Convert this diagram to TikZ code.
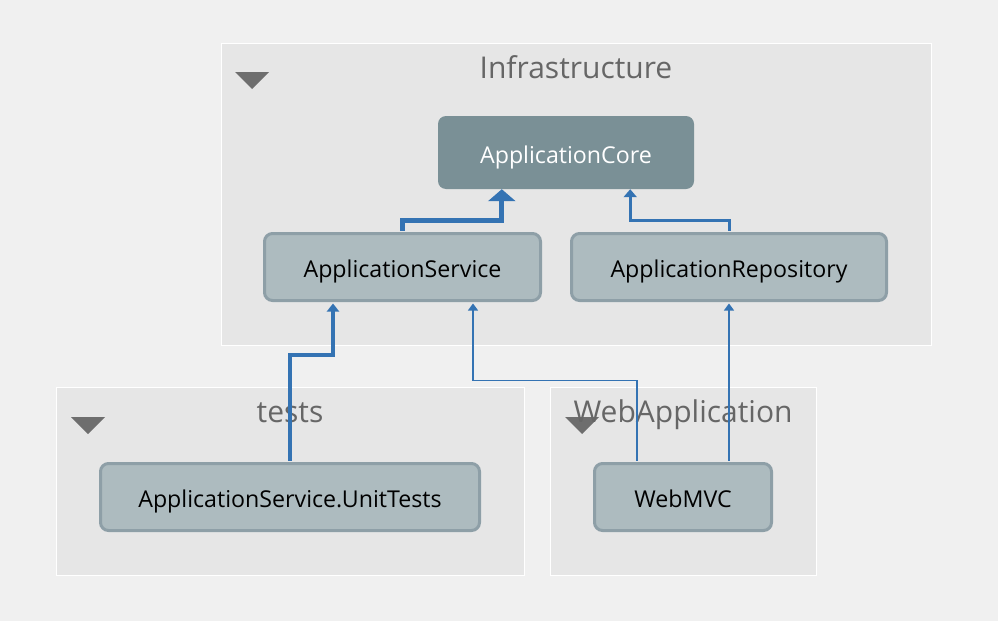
\documentclass[tikz,border=0pt]{standalone}
\usepackage{fontspec}
\setmainfont{Open Sans}
\usetikzlibrary{arrows.meta,calc}
\definecolor{bgc}{HTML}{F0F0F0}
\definecolor{grpc}{HTML}{E6E6E6}
\definecolor{corec}{HTML}{7A9096}
\definecolor{nodec}{HTML}{ADBBBF}
\definecolor{nodeb}{HTML}{8E9FA7}
\definecolor{edgec}{HTML}{3473B3}
\definecolor{titlec}{HTML}{666666}
\definecolor{tric}{HTML}{6E6E6E}
\tikzset{
  grp/.style={draw=white, line width=1pt, fill=grpc},
  grptitle/.style={font=\fontsize{30}{34}\selectfont, text=titlec, inner sep=0pt, text height=22pt, text depth=0pt},
  tri/.style={fill=tric, draw=none},
  proj/.style={draw=nodeb, fill=nodec, line width=3pt, rounded corners=8pt, font=\fontsize{23.2}{27}\selectfont, inner sep=0pt, text height=21pt, text depth=0pt},
  coreproj/.style={fill=corec, draw=none, rounded corners=8pt, text=white, font=\fontsize{23.2}{27}\selectfont, inner sep=0pt, text height=21pt, text depth=0pt},
  dep/.style={draw=edgec},
}
\begin{document}
\begin{tikzpicture}[x=1pt,y=-1pt]
\path[fill=bgc] (0,0) rectangle (998,621);
\useasboundingbox (0,0) rectangle (998,621);
% groups
\draw[grp] (221,43) rectangle (931,345);
\draw[grp] (56,387) rectangle (524,575);
\draw[grp] (550,387) rectangle (816,575);
% triangles
\fill[tri] (235,72) -- (269,72) -- (252,89) -- cycle;
\fill[tri] (71,417) -- (105,417) -- (88,434) -- cycle;
\fill[tri] (565,417) -- (599,417) -- (582,434) -- cycle;
% titles
\node[grptitle] (tinfra) at (576,67) {Infrastructure};
\node[grptitle] (ttests) at (290,411) {tests};
\node[grptitle] (tweb) at (683,411) {WebApplication};
% nodes
\node[coreproj, minimum width=256pt, minimum height=73pt] (core) at (566,152.5) {ApplicationCore};
\node[proj, minimum width=276pt, minimum height=67pt] (svc) at (402.5,267) {ApplicationService};
\node[proj, minimum width=315pt, minimum height=67pt] (repo) at (729,267) {ApplicationRepository};
\node[proj, minimum width=379pt, minimum height=67pt] (ut) at (290,497) {ApplicationService.UnitTests};
\node[proj, minimum width=177pt, minimum height=67pt] (mvc) at (683,497) {WebMVC};
% edges
\draw[dep, line width=5pt, -{Triangle[width=27pt,length=12pt]}]
  ([yshift=1.5pt]svc.north) -- ++(0,-10) -| ([xshift=64pt]core.south west);
\draw[dep, line width=3pt, -{Triangle[width=13pt,length=8pt]}]
  ([yshift=1.5pt]repo.north) -- ++(0,-10) -| ([xshift=-64pt]core.south east);
\draw[dep, line width=4pt, -{Triangle[width=12pt,length=8pt]}]
  ([yshift=1.5pt]ut.north) |- ([xshift=-69.5pt,yshift=-52.5pt]svc.south) -- ([xshift=-69.5pt,yshift=-1.5pt]svc.south);
\draw[dep, line width=1.3pt, -{Triangle[width=10pt,length=7pt]}]
  ([xshift=-46pt,yshift=1.5pt]mvc.north) |- ([xshift=70.5pt,yshift=-78.5pt]svc.south) -- ([xshift=70.5pt,yshift=-1.5pt]svc.south);
\draw[dep, line width=1.3pt, -{Triangle[width=10pt,length=7pt]}]
  ([xshift=46pt,yshift=1.5pt]mvc.north) -- ([yshift=-1.5pt]repo.south);
\end{tikzpicture}
\end{document}
